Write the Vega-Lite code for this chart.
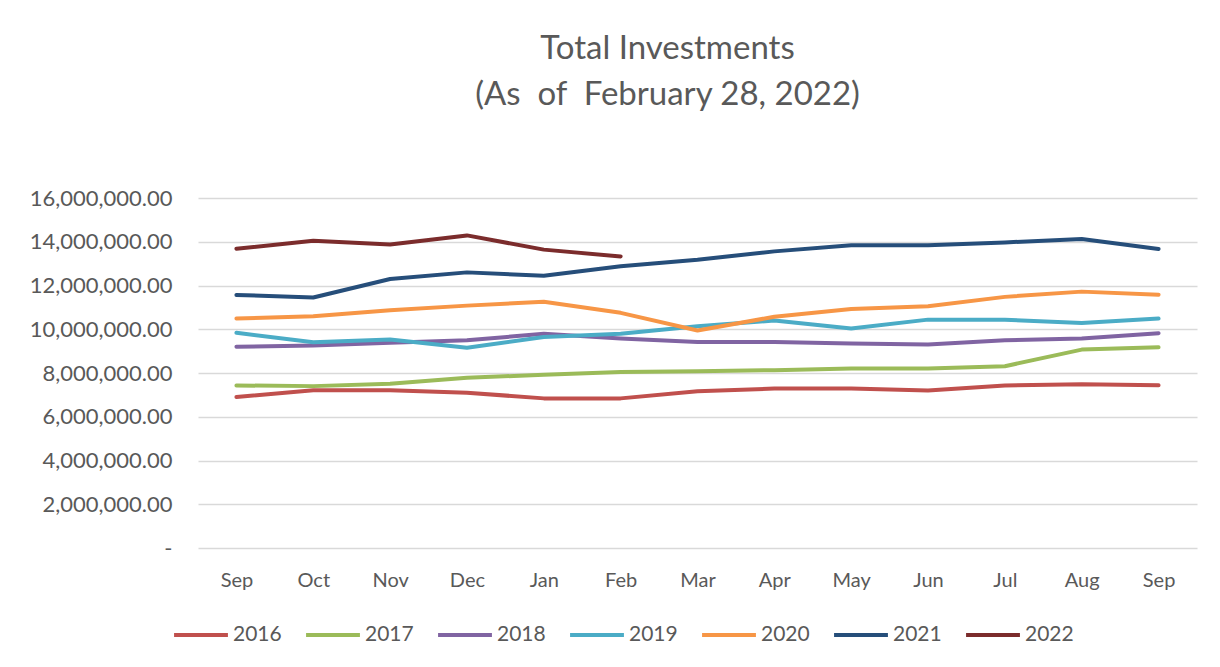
{
  "$schema": "https://vega.github.io/schema/vega-lite/v6.json",
  "autosize": "none",
  "width": 999,
  "height": 350,
  "padding": {"left": 198, "top": 198, "right": 23, "bottom": 119},
  "background": "white",
  "title": {
    "text": ["Total Investments", "(As\u00a0\u00a0of\u00a0\u00a0February 28, 2022)"],
    "font": "Lato",
    "fontSize": 33,
    "fontWeight": "normal",
    "color": "#595959",
    "lineHeight": 46,
    "anchor": "middle",
    "frame": "group",
    "dx": -30,
    "offset": 75
  },
  "config": {
    "view": {"stroke": null},
    "font": "Lato"
  },
  "data": {
    "values": [
      {"m":"Sep","y":"2016","v":6900000},{"m":"Oct","y":"2016","v":7210000},{"m":"Nov","y":"2016","v":7210000},{"m":"Dec","y":"2016","v":7100000},{"m":"Jan","y":"2016","v":6840000},{"m":"Feb","y":"2016","v":6840000},{"m":"Mar","y":"2016","v":7170000},{"m":"Apr","y":"2016","v":7290000},{"m":"May","y":"2016","v":7290000},{"m":"Jun","y":"2016","v":7200000},{"m":"Jul","y":"2016","v":7430000},{"m":"Aug","y":"2016","v":7490000},{"m":"Sep2","y":"2016","v":7440000},
      {"m":"Sep","y":"2017","v":7430000},{"m":"Oct","y":"2017","v":7400000},{"m":"Nov","y":"2017","v":7510000},{"m":"Dec","y":"2017","v":7780000},{"m":"Jan","y":"2017","v":7920000},{"m":"Feb","y":"2017","v":8050000},{"m":"Mar","y":"2017","v":8080000},{"m":"Apr","y":"2017","v":8130000},{"m":"May","y":"2017","v":8210000},{"m":"Jun","y":"2017","v":8210000},{"m":"Jul","y":"2017","v":8310000},{"m":"Aug","y":"2017","v":9070000},{"m":"Sep2","y":"2017","v":9180000},
      {"m":"Sep","y":"2018","v":9200000},{"m":"Oct","y":"2018","v":9260000},{"m":"Nov","y":"2018","v":9380000},{"m":"Dec","y":"2018","v":9500000},{"m":"Jan","y":"2018","v":9790000},{"m":"Feb","y":"2018","v":9580000},{"m":"Mar","y":"2018","v":9420000},{"m":"Apr","y":"2018","v":9420000},{"m":"May","y":"2018","v":9350000},{"m":"Jun","y":"2018","v":9300000},{"m":"Jul","y":"2018","v":9500000},{"m":"Aug","y":"2018","v":9580000},{"m":"Sep2","y":"2018","v":9820000},
      {"m":"Sep","y":"2019","v":9840000},{"m":"Oct","y":"2019","v":9410000},{"m":"Nov","y":"2019","v":9530000},{"m":"Dec","y":"2019","v":9150000},{"m":"Jan","y":"2019","v":9650000},{"m":"Feb","y":"2019","v":9790000},{"m":"Mar","y":"2019","v":10140000},{"m":"Apr","y":"2019","v":10400000},{"m":"May","y":"2019","v":10030000},{"m":"Jun","y":"2019","v":10440000},{"m":"Jul","y":"2019","v":10430000},{"m":"Aug","y":"2019","v":10290000},{"m":"Sep2","y":"2019","v":10490000},
      {"m":"Sep","y":"2020","v":10490000},{"m":"Oct","y":"2020","v":10590000},{"m":"Nov","y":"2020","v":10870000},{"m":"Dec","y":"2020","v":11080000},{"m":"Jan","y":"2020","v":11260000},{"m":"Feb","y":"2020","v":10750000},{"m":"Mar","y":"2020","v":9940000},{"m":"Apr","y":"2020","v":10570000},{"m":"May","y":"2020","v":10930000},{"m":"Jun","y":"2020","v":11050000},{"m":"Jul","y":"2020","v":11480000},{"m":"Aug","y":"2020","v":11720000},{"m":"Sep2","y":"2020","v":11580000},
      {"m":"Sep","y":"2021","v":11570000},{"m":"Oct","y":"2021","v":11450000},{"m":"Nov","y":"2021","v":12300000},{"m":"Dec","y":"2021","v":12600000},{"m":"Jan","y":"2021","v":12450000},{"m":"Feb","y":"2021","v":12880000},{"m":"Mar","y":"2021","v":13180000},{"m":"Apr","y":"2021","v":13560000},{"m":"May","y":"2021","v":13840000},{"m":"Jun","y":"2021","v":13840000},{"m":"Jul","y":"2021","v":13970000},{"m":"Aug","y":"2021","v":14130000},{"m":"Sep2","y":"2021","v":13670000},
      {"m":"Sep","y":"2022","v":13680000},{"m":"Oct","y":"2022","v":14050000},{"m":"Nov","y":"2022","v":13870000},{"m":"Dec","y":"2022","v":14290000},{"m":"Jan","y":"2022","v":13640000},{"m":"Feb","y":"2022","v":13330000}
    ]
  },
  "mark": {"type": "line", "strokeWidth": 4, "strokeCap": "round", "strokeJoin": "round"},
  "encoding": {
    "x": {
      "field": "m",
      "type": "ordinal",
      "sort": ["Sep","Oct","Nov","Dec","Jan","Feb","Mar","Apr","May","Jun","Jul","Aug","Sep2"],
      "scale": {"type": "point", "padding": 0.5},
      "axis": {
        "title": null,
        "labelExpr": "slice(datum.value, 0, 3)",
        "labelAngle": 0,
        "labelFont": "Lato",
        "labelFontSize": 20,
        "labelColor": "#595959",
        "labelPadding": 22,
        "ticks": false,
        "domain": false,
        "grid": false
      }
    },
    "y": {
      "field": "v",
      "type": "quantitative",
      "scale": {"domain": [0, 16000000], "nice": false},
      "axis": {
        "title": null,
        "values": [0,2000000,4000000,6000000,8000000,10000000,12000000,14000000,16000000],
        "labelExpr": "datum.value == 0 ? '-' : format(datum.value, ',.2f')",
        "labelFont": "Lato",
        "labelFontSize": 22,
        "labelColor": "#595959",
        "labelPadding": 26,
        "ticks": false,
        "domain": false,
        "grid": true,
        "gridColor": "#D9D9D9",
        "gridWidth": 1.3
      }
    },
    "color": {
      "field": "y",
      "type": "nominal",
      "scale": {
        "domain": ["2016","2017","2018","2019","2020","2021","2022"],
        "range": ["#C0504D","#9BBB59","#8064A2","#4BACC6","#F79646","#264E7A","#7B2C2C"]
      },
      "legend": {
        "orient": "none",
        "direction": "horizontal",
        "legendX": -26,
        "legendY": 408,
        "title": null,
        "symbolType": "stroke",
        "symbolSize": 2900,
        "symbolStrokeWidth": 4,
        "labelFont": "Lato",
        "labelFontSize": 21,
        "labelColor": "#595959",
        "labelOffset": 3,
        "columnPadding": 16
      }
    }
  }
}
